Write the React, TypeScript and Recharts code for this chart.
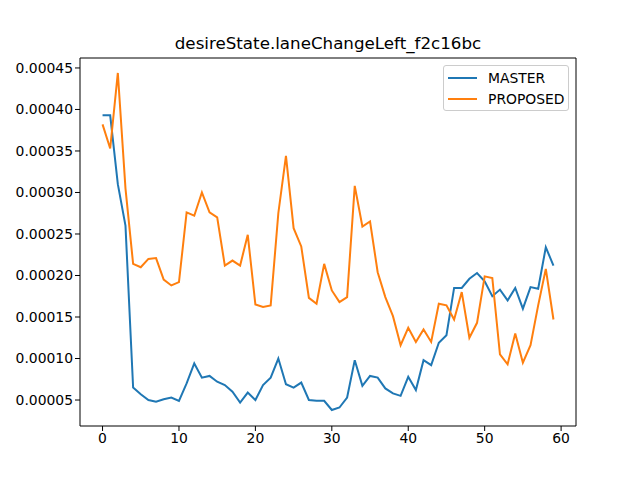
import React from 'react';
import { LineChart, Line, XAxis, YAxis, Legend, ReferenceArea } from 'recharts';

const master = [
  0.000393, 0.000393, 0.00031, 0.00026, 0.000065, 0.000057, 0.00005, 0.000048, 0.000051, 0.000053,
  0.000049, 0.00007, 0.000094, 0.000077, 0.000079, 0.000072, 0.000068, 0.00006, 0.000047, 0.000059,
  0.00005, 0.000068, 0.000077, 0.0001, 0.000069, 0.000065, 0.000071, 0.00005, 0.000049, 0.000049,
  0.000038, 0.000041, 0.000053, 0.000098, 0.000067, 0.000079, 0.000077, 0.000064, 0.000058, 0.000055,
  0.000078, 0.000062, 0.000098, 0.000092, 0.000119, 0.000128, 0.000185, 0.000185, 0.000196, 0.000203,
  0.000193, 0.000175, 0.000183, 0.00017, 0.000185, 0.00016, 0.000186, 0.000184, 0.000234, 0.000212,
];

const proposed = [
  0.000382, 0.000353, 0.000444, 0.000305, 0.000214, 0.00021, 0.00022, 0.000221, 0.000195, 0.000188,
  0.000192, 0.000276, 0.000272, 0.0003, 0.000276, 0.00027, 0.000212, 0.000218, 0.000212, 0.000249,
  0.000165, 0.000162, 0.000164, 0.000275, 0.000344, 0.000257, 0.000235, 0.000173, 0.000166, 0.000214,
  0.000182, 0.000168, 0.000174, 0.000308, 0.000259, 0.000265, 0.000204, 0.000174, 0.000151, 0.000116,
  0.000137, 0.00012, 0.000135, 0.00012, 0.000166, 0.000164, 0.000147, 0.00018, 0.000125, 0.000143,
  0.000199, 0.000197, 0.000105, 0.000093, 0.00013, 0.000095, 0.000116, 0.000164, 0.000208, 0.000147,
];

const xTicks = [0, 10, 20, 30, 40, 50, 60];
const yTicks = [0.00005, 0.0001, 0.00015, 0.0002, 0.00025, 0.0003, 0.00035, 0.0004, 0.00045];

const data = master.map((m, i) => ({ x: i, master: m, proposed: proposed[i] }));

const X_DOMAIN: [number, number] = [-2.95, 61.95];
const Y_DOMAIN: [number, number] = [0.0000187, 0.000462];

const font = 'DejaVu Sans, sans-serif';

const LegendBox = () => (
  <div
    style={{
      position: 'absolute',
      left: 443,
      top: 65,
      width: 126,
      height: 46,
      border: '1px solid #cccccc',
      borderRadius: 3,
      background: 'rgba(255,255,255,0.8)',
      fontFamily: font,
      fontSize: 13.9,
      boxSizing: 'border-box',
    }}
  >
    {[
      { name: 'MASTER', color: '#1f77b4' },
      { name: 'PROPOSED', color: '#ff7f0e' },
    ].map((item, i) => (
      <div key={item.name} style={{ position: 'absolute', left: 4, top: 3 + i * 21, height: 18, display: 'flex', alignItems: 'center' }}>
        <div style={{ width: 29, height: 2, background: item.color, marginRight: 11 }} />
        <span style={{ color: '#000' }}>{item.name}</span>
      </div>
    ))}
  </div>
);

export default function App() {
  return (
    <div style={{ position: 'absolute', left: 0, top: 0, width: 640, height: 480, background: '#fff' }}>
      <div
        style={{
          position: 'absolute',
          left: 80,
          width: 496,
          top: 33,
          textAlign: 'center',
          fontFamily: font,
          fontSize: 16.7,
          color: '#000',
        }}
      >
        desireState.laneChangeLeft_f2c16bc
      </div>
      <LineChart width={640} height={480} data={data} margin={{ top: 58, right: 64, bottom: 0, left: 0 }}>
        <XAxis
          dataKey="x"
          type="number"
          domain={X_DOMAIN}
          ticks={xTicks}
          height={54}
          axisLine={false}
          tickLine={{ stroke: '#000' }}
          tickSize={5}
          tick={{ fill: '#000', fontSize: 13.9, fontFamily: font }}
          allowDataOverflow
        />
        <YAxis
          type="number"
          domain={Y_DOMAIN}
          ticks={yTicks}
          width={80}
          axisLine={false}
          tickLine={{ stroke: '#000' }}
          tickSize={5}
          tickFormatter={(v: number) => v.toFixed(5)}
          tick={{ fill: '#000', fontSize: 13.9, fontFamily: font }}
          allowDataOverflow
        />
        <ReferenceArea
          x1={X_DOMAIN[0]}
          x2={X_DOMAIN[1]}
          y1={Y_DOMAIN[0]}
          y2={Y_DOMAIN[1]}
          fill="none"
          stroke="#000"
          strokeWidth={1}
          fillOpacity={0}
        />
        <Line dataKey="master" name="MASTER" stroke="#1f77b4" strokeWidth={2} dot={false} isAnimationActive={false} />
        <Line dataKey="proposed" name="PROPOSED" stroke="#ff7f0e" strokeWidth={2} dot={false} isAnimationActive={false} />
        <Legend content={() => null} />
      </LineChart>
      <LegendBox />
    </div>
  );
}
